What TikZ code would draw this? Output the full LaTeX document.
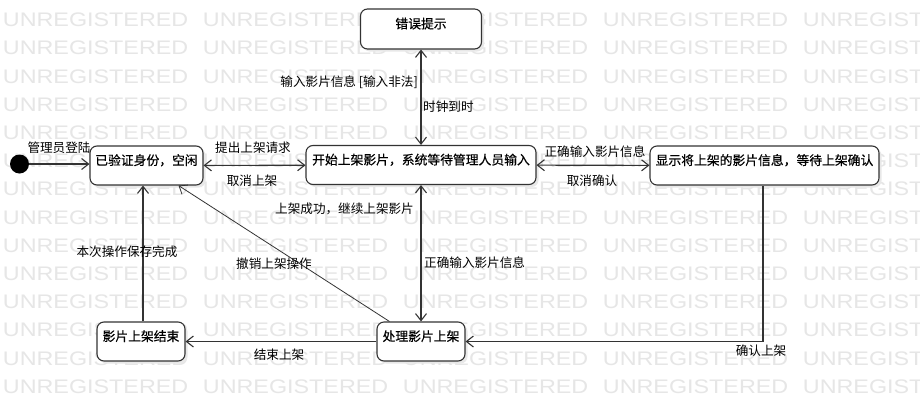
\documentclass[tikz,border=0pt]{standalone}
\usepackage{fontspec}
\newfontfamily\cjk{Noto Sans CJK SC}
\newfontfamily\cjkbox{Noto Sans CJK SC}[FakeBold=0.5]
\newfontfamily\wmfont{Liberation Sans}
\usetikzlibrary{arrows.meta,shadows}
\definecolor{ink}{HTML}{333333}
\definecolor{wmgray}{HTML}{E6E6E6}

\tikzset{
  statebox/.style={draw=ink, line width=1.1pt, fill=white, rounded corners=7pt,
    inner xsep=0pt, inner ysep=0pt, text height=19pt, text depth=20pt,
    font=\cjkbox\fontsize{12.8pt}{14pt}\selectfont,
    drop shadow={shadow xshift=2.5pt, shadow yshift=-2.5pt, fill=black!9, opacity=1}},
  lbl/.style={font=\cjk\fontsize{12.6pt}{14pt}\selectfont, inner sep=1pt, text=black},
  wm/.style={font=\wmfont\fontsize{19.6pt}{20pt}\selectfont, text=wmgray,
    inner sep=0pt, xscale=1.19, anchor=base west},
  conn/.style={draw=ink, line width=1.1pt},
  thinconn/.style={draw=ink, line width=0.8pt},
  fwd/.style={-{Straight Barb[length=7pt,width=11pt]}},
  both/.style={{Straight Barb[length=7pt,width=11pt]}-{Straight Barb[length=7pt,width=11pt]}},
}

\begin{document}
\begin{tikzpicture}[x=1pt,y=-1pt]
  \useasboundingbox (0,0) rectangle (920,402);
  \fill[white] (0,0) rectangle (920,402);

  % background watermark rows
  \begin{scope}
    \clip (0,0) rectangle (920,402);
    \foreach \r in {0,...,14} {
      \foreach \c in {0,...,4} {
        \node[wm] (wm-\r-\c) at ({2.7+200*\c}, {-1.5+28.2*\r}) {UNREGISTERED};
      }
    }
  \end{scope}

  % states
  \node[circle, fill=black, minimum size=19pt, inner sep=0pt] (init) at (19.5,164) {};
  \node[statebox, minimum width=113pt, minimum height=39pt] (idle) at (146.5,165.5) {已验证身份，空闲};
  \node[statebox, minimum width=230pt, minimum height=38pt] (start) at (421,165) {开始上架影片，系统等待管理人员输入};
  \node[statebox, minimum width=229pt, minimum height=39pt] (confirm) at (764.5,165.5) {显示将上架的影片信息，等待上架确认};
  \node[statebox, minimum width=121pt, minimum height=40pt] (error) at (421,29) {错误提示};
  \node[statebox, minimum width=88pt, minimum height=39pt] (proc) at (421,341.5) {处理影片上架};
  \node[statebox, minimum width=88pt, minimum height=39pt] (done) at (141,341.5) {影片上架结束};

  % transitions
  \draw[conn, fwd] (init) -- (init -| idle.west);
  \draw[conn, both] (idle) -- (start);
  \draw[conn, both] (error) -- (start);
  \draw[conn, both] (start) -- (confirm);
  \draw[conn, both] (start) -- (proc);
  \draw[thinconn, fwd] ([xshift=13pt]proc.north west) -- ([xshift=-25pt]idle.south east);
  \draw[conn, fwd] ([xshift=-1.5pt]confirm.south) |- (proc.east);
  \draw[conn, fwd] (proc) -- (done);
  \draw[conn, fwd] ([xshift=2pt]done.north) -- ([xshift=2pt]done.north |- idle.south);

  % transition labels
  \node[lbl] (l-login) at (59,148) {管理员登陆};
  \node[lbl] (l-request) at (253,148) {提出上架请求};
  \node[lbl] (l-cancel) at (252,181) {取消上架};
  \node[lbl, anchor=east] (l-illegal) at (419,82) {输入影片信息 [输入非法]};
  \node[lbl, anchor=west] (l-timer) at (422,107) {时钟到时};
  \node[lbl] (l-correct) at (595,152) {正确输入影片信息};
  \node[lbl] (l-cancelok) at (592,181) {取消确认};
  \node[lbl, anchor=east] (l-success) at (415,209) {上架成功，继续上架影片};
  \node[lbl, anchor=west] (l-correct2) at (423,263) {正确输入影片信息};
  \node[lbl] (l-undo) at (274,264) {撤销上架操作};
  \node[lbl] (l-saved) at (127,252) {本次操作保存完成};
  \node[lbl] (l-end) at (279,355) {结束上架};
  \node[lbl] (l-ok) at (761,351) {确认上架};
\end{tikzpicture}
\end{document}
